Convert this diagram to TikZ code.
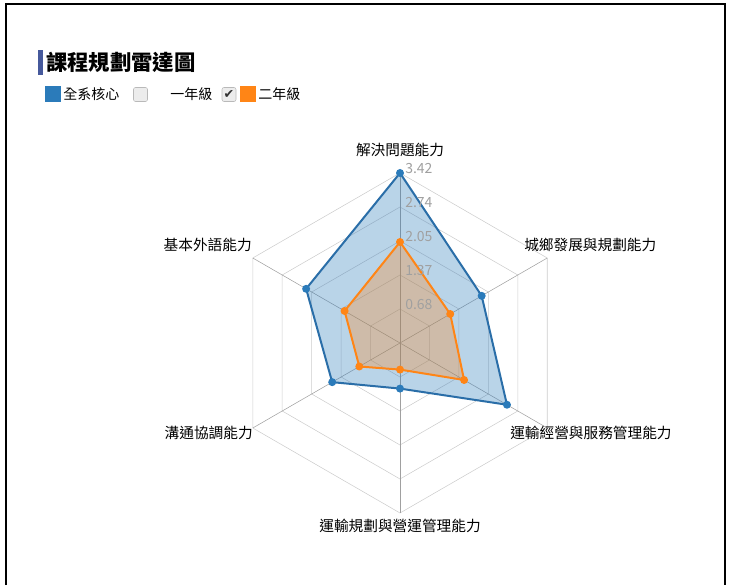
\documentclass[tikz,border=0pt]{standalone}
\usepackage{fontspec}
\setmainfont{Noto Sans CJK TC}
\newfontfamily\symbolfont{DejaVu Sans}
\usetikzlibrary{positioning}
\definecolor{coreblue}{HTML}{2B7BBA}
\definecolor{corebluedark}{HTML}{2A6EA8}
\definecolor{gradeorange}{HTML}{FF8516}
\definecolor{ringgray}{HTML}{CCCCCC}
\definecolor{spokegray}{HTML}{A0A0A0}
\definecolor{tickgray}{HTML}{A0A0A0}
\definecolor{titlebar}{HTML}{46599C}
\tikzset{x=0.75pt, y=0.75pt,
	axislabel/.style={font=\fontsize{11}{13}\selectfont, inner sep=0pt},
	ticklabel/.style={font=\fontsize{10.5}{12}\selectfont, text=tickgray, anchor=west, inner sep=0pt},
	legendtext/.style={font=\fontsize{10.5}{12}\selectfont, inner sep=0pt, anchor=west},
	dot/.style={circle, inner sep=0pt, minimum size=6pt},
	checkbox/.style={draw=gray!55, fill=gray!15, rounded corners=1.5pt, minimum size=10.5pt, inner sep=0pt},
	swatch/.style={minimum size=12pt, inner sep=0pt}
}

\begin{document}
\begin{tikzpicture}
\useasboundingbox (0,0) rectangle (731,585);
% frame
\draw[line width=1.5pt] (6,0) -- (6,581) -- (725,581) -- (725,0);

% title and legend
\fill[titlebar] (38,510) rectangle (43,535);
\node[anchor=west, inner sep=0pt, font=\fontsize{16}{18}\selectfont\bfseries] (title) at (46,523) {課程規劃雷達圖};
\node[swatch, fill=coreblue] (swcore) at (53,490.5) {};
\node[legendtext] (lgcore) at (63,490.5) {全系核心};
\node[checkbox] (boxone) at (140.5,490.5) {};
\node[legendtext] (lgone) at (170,490.5) {一年級};
\node[checkbox] (boxtwo) at (229,490.5) {\symbolfont\fontsize{9.5}{9.5}\selectfont\color{black!80}✔};
\node[swatch, fill=gradeorange] (swtwo) at (248,490.5) {};
\node[legendtext] (lgtwo) at (258,490.5) {二年級};

\begin{scope}[shift={(400,242)}]
	\coordinate (o) at (0,0);
	% grid
	\foreach \r in {34,68,102,136,170}
		\draw[ringgray] (90:\r) \foreach \a in {30,-30,-90,-150,150} { -- (\a:\r) } -- cycle;
	\foreach \a [count=\i] in {90,30,-30,-90,-150,150} {
		\coordinate (v\i) at (\a:170);
		\draw[spokegray] (o) -- (v\i);
	}
	% series
	\foreach \a/\r [count=\i] in {90/170,30/94.3,-30/123.5,-90/45.6,-150/78.3,150/108.4}
		\coordinate (b\i) at (\a:\r);
	\foreach \a/\r [count=\i] in {90/101,30/58,-30/74,-90/26.6,-150/47,150/64}
		\coordinate (g\i) at (\a:\r);
	\fill[coreblue, fill opacity=0.33] (b1) -- (b2) -- (b3) -- (b4) -- (b5) -- (b6) -- cycle;
	\fill[gradeorange, fill opacity=0.3] (g1) -- (g2) -- (g3) -- (g4) -- (g5) -- (g6) -- cycle;
	\draw[corebluedark, line width=1.5pt, line join=round] (b1) -- (b2) -- (b3) -- (b4) -- (b5) -- (b6) -- cycle;
	\draw[gradeorange, line width=1.5pt, line join=round] (g1) -- (g2) -- (g3) -- (g4) -- (g5) -- (g6) -- cycle;
	\foreach \i in {1,...,6} {
		\node[dot, fill=coreblue] (pb\i) at (b\i) {};
		\node[dot, fill=gradeorange] (pg\i) at (g\i) {};
	}
	% ticks
	\foreach \r/\t in {34/0.68,68/1.37,102/2.05,136/2.74,170/3.42}
		\node[ticklabel] (t\r) at (5,\r+4) {\t};
	% axis labels
	\node[axislabel] (ax1) at (0,193) {解決問題能力};
	\node[axislabel, anchor=west] (ax2) at (124,98) {城鄉發展與規劃能力};
	\node[axislabel, anchor=west] (ax3) at (110,-90) {運輸經營與服務管理能力};
	\node[axislabel] (ax4) at (0,-183) {運輸規劃與營運管理能力};
	\node[axislabel, anchor=east] (ax5) at (-147,-90) {溝通協調能力};
	\node[axislabel, anchor=east] (ax6) at (-148,98) {基本外語能力};
\end{scope}
\end{tikzpicture}
\end{document}
